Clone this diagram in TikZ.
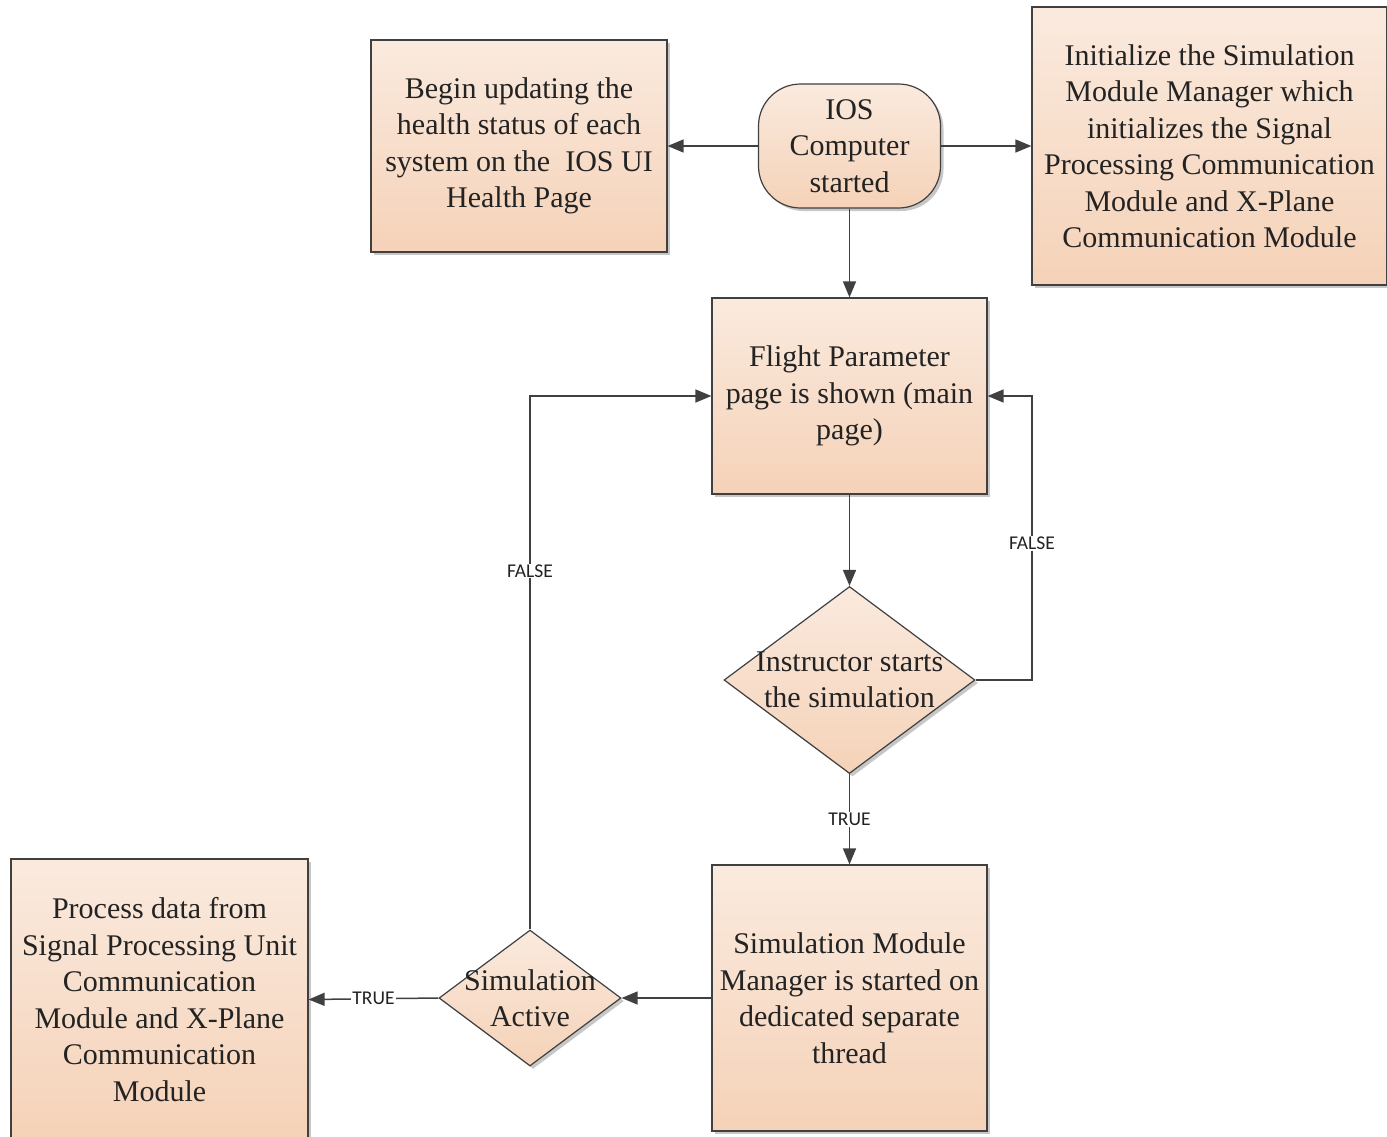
\documentclass[tikz,border=0pt]{standalone}
\usepackage{fontspec}
\setmainfont{Liberation Serif}
\newfontfamily\lblfont{Carlito}
\usetikzlibrary{arrows.meta,shapes.geometric,shadows}

\definecolor{fillTop}{RGB}{250,234,222}
\definecolor{fillBot}{RGB}{245,210,184}
\definecolor{edge}{RGB}{64,64,64}
\definecolor{ink}{RGB}{35,35,35}

\begin{document}
\begin{tikzpicture}[x=1pt,y=-1pt,
  boxtext/.style={text=ink, font=\fontsize{30pt}{36.5pt}\selectfont, align=center},
  base/.style={draw=edge, line width=1.2pt, top color=fillTop, bottom color=fillBot,
    boxtext, inner sep=0pt,
    drop shadow={shadow xshift=3pt, shadow yshift=-3pt, opacity=0.22, fill=black}},
  proc/.style={base, rectangle},
  term/.style={base, rectangle, rounded corners=42pt},
  decision/.style={base, diamond},
  flow/.style={draw=edge, line width=1.5pt, -{Triangle[length=16pt,width=13pt]}},
  tag/.style={fill=white, inner sep=1pt, text=ink, font=\lblfont\fontsize{19.5pt}{19.5pt}\selectfont}
]
\useasboundingbox (0,0) rectangle (1387,1136);

% process boxes, terminal and decisions
\node[term, minimum width=182pt, minimum height=124pt] (ios) at (849.5,146)
  {IOS\\Computer\\started};
\node[proc, minimum width=296pt, minimum height=212pt] (health) at (519,146)
  {Begin updating the\\health status of each\\system on the\ \ IOS UI\\Health Page};
\node[proc, minimum width=355pt, minimum height=278pt] (init) at (1209.5,146)
  {Initialize the Simulation\\Module Manager which\\initializes the Signal\\Processing Communication\\Module and X-Plane\\Communication Module};
\node[proc, minimum width=275pt, minimum height=196pt] (flight) at (849.5,396)
  {Flight Parameter\\page is shown (main\\page)};
\node[decision, minimum width=251pt, minimum height=187pt,
  label={[boxtext]center:{Instructor starts\\the simulation}}] (start) at (849.5,680) {};
\node[proc, minimum width=275pt, minimum height=266pt] (smm) at (849.5,998)
  {Simulation Module\\Manager is started on\\dedicated separate\\thread};
\node[decision, minimum width=182pt, minimum height=136pt,
  label={[boxtext]center:{Simulation\\Active}}] (active) at (530,998) {};
\node[proc, minimum width=297pt, minimum height=281pt] (proc) at (159.5,999.5)
  {Process data from\\Signal Processing Unit\\Communication\\Module and X-Plane\\Communication\\Module};

% loop-back corner on the right
\coordinate (loopR) at (1032,396);

% connectors
\draw[flow] (ios.west) -- (health.east);
\draw[flow] (ios.east) -- (init.west);
\draw[flow] (ios.south) -- (flight.north);
\draw[flow] (flight.south) -- (start.north);
\draw[flow] (start.east) -| (loopR) node[tag, pos=0.74] {FALSE} -- (flight.east);
\draw[flow] (start.south) -- node[tag] {TRUE} (smm.north);
\draw[flow] (smm.west) -- (active.east);
\draw[flow] (active.west) -- node[tag] {TRUE} (proc.east);
\draw[flow] (active.north) |- node[tag, pos=0.336] {FALSE} (flight.west);
\end{tikzpicture}
\end{document}
